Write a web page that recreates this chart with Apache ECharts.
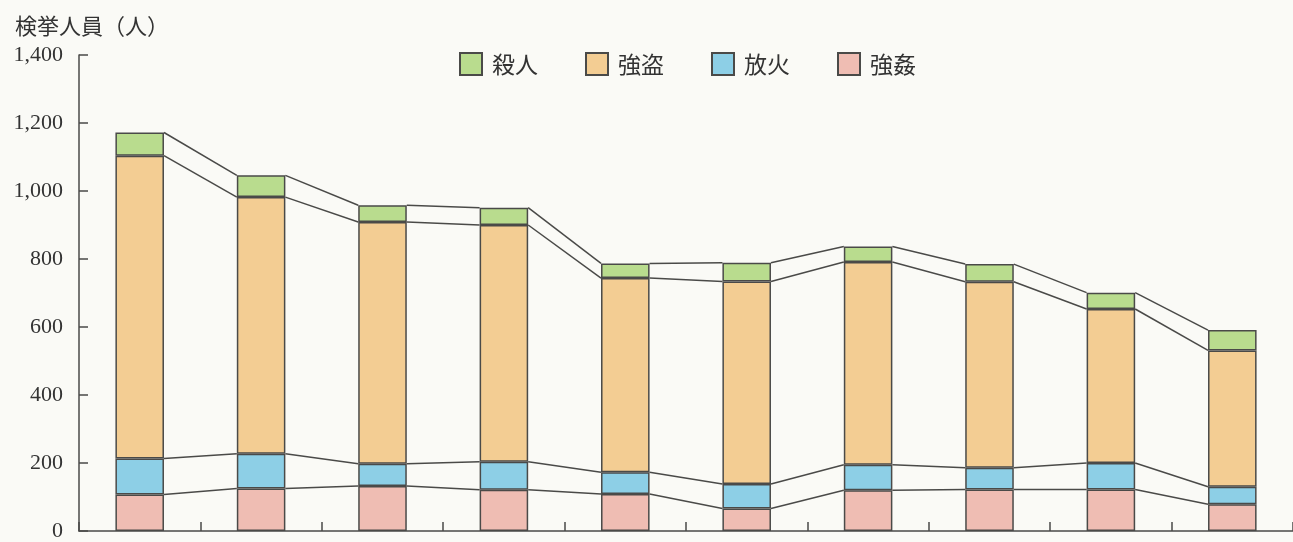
<!DOCTYPE html>
<html>
<head>
<meta charset="utf-8">
<script src="https://cdn.jsdelivr.net/npm/echarts@6/dist/echarts.min.js"></script>
<style>
html,body{margin:0;padding:0;background:#fafaf6;}
#c{width:1293px;height:542px;}
</style>
</head>
<body>
<div id="c"></div>
<script>
// categories (x labels are cut off in the reference)
const categories = ['1','2','3','4','5','6','7','8','9','10'];
// series values (persons arrested)
const rape     = [107,125,132,121,109,66,120,122,122,79];   // 強姦
const arson    = [106,102,66,83,64,72,75,64,78,51];         // 放火
const robbery  = [891,755,711,696,571,596,596,547,453,401]; // 強盗
const murder   = [68,64,49,51,43,55,46,52,48,60];           // 殺人
const yTicks = [0,200,400,600,800,1000,1200,1400];

const seriesDefs = [
  {name:'強姦', data:rape, color:'#efbdb3'},
  {name:'放火', data:arson, color:'#8dcfe6'},
  {name:'強盗', data:robbery, color:'#f3cd93'},
  {name:'殺人', data:murder, color:'#b9dc8e'}
];
const edge = '#4a4a48';

function cum(level, i){
  let s = 0;
  for(let k=0;k<=level;k++) s += seriesDefs[k].data[i];
  return s;
}

const chart = echarts.init(document.getElementById('c'));
const barSeries = seriesDefs.map(d => ({
  name:d.name, type:'bar', stack:'total', data:d.data, barWidth:'40%',
  itemStyle:{color:d.color, borderColor:edge, borderWidth:1.5},
  emphasis:{disabled:true}
}));

const connectorData = categories.slice(0,-1).map((c,i)=>[i,0]);
const connectors = {
  type:'custom', silent:true, z:3,
  data:connectorData,
  encode:{x:0,y:1},
  renderItem:function(params, api){
    const i = params.dataIndex;
    const band = api.size([1,0])[0];
    const half = band*0.2;
    const children = [];
    for(let l=0;l<seriesDefs.length;l++){
      const p1 = api.coord([i, cum(l,i)]);
      const p2 = api.coord([i+1, cum(l,i+1)]);
      children.push({type:'line', shape:{x1:p1[0]+half, y1:p1[1], x2:p2[0]-half, y2:p2[1]},
        style:{stroke:edge, lineWidth:1.5}});
    }
    return {type:'group', children:children};
  }
};

chart.setOption({
  backgroundColor:'#fafaf6',
  animation:false,
  title:{text:'検挙人員（人）', left:10, top:10,
    textStyle:{fontFamily:'Noto Sans CJK JP', fontSize:22, fontWeight:'normal', color:'#333'}},
  legend:{
    top:47, left:454, itemWidth:22, itemHeight:22, itemGap:47,
    icon:'rect',
    data:['殺人','強盗','放火','強姦'],
    textStyle:{fontFamily:'Noto Sans CJK JP', fontSize:23, color:'#333', padding:[0,0,0,5]}
  },
  grid:{left:79, right:-13, top:55, bottom:11, containLabel:false},
  xAxis:{
    type:'category', data:categories,
    axisLine:{lineStyle:{color:edge, width:1.5}},
    axisTick:{show:true, interval:0, inside:true, length:9, lineStyle:{color:edge, width:1.5}},
    axisLabel:{show:false, interval:0}
  },
  yAxis:{
    type:'value', min:yTicks[0], max:yTicks[yTicks.length-1], interval:200,
    splitLine:{show:false},
    axisLine:{show:true, lineStyle:{color:edge, width:1.5}},
    axisTick:{show:true, inside:true, length:9, lineStyle:{color:edge, width:1.5}},
    axisLabel:{margin:16, fontFamily:'Liberation Serif', fontSize:22, color:'#333',
      formatter:v=>v.toLocaleString('en-US')}
  },
  series:[...barSeries, connectors]
});
</script>
</body>
</html>
